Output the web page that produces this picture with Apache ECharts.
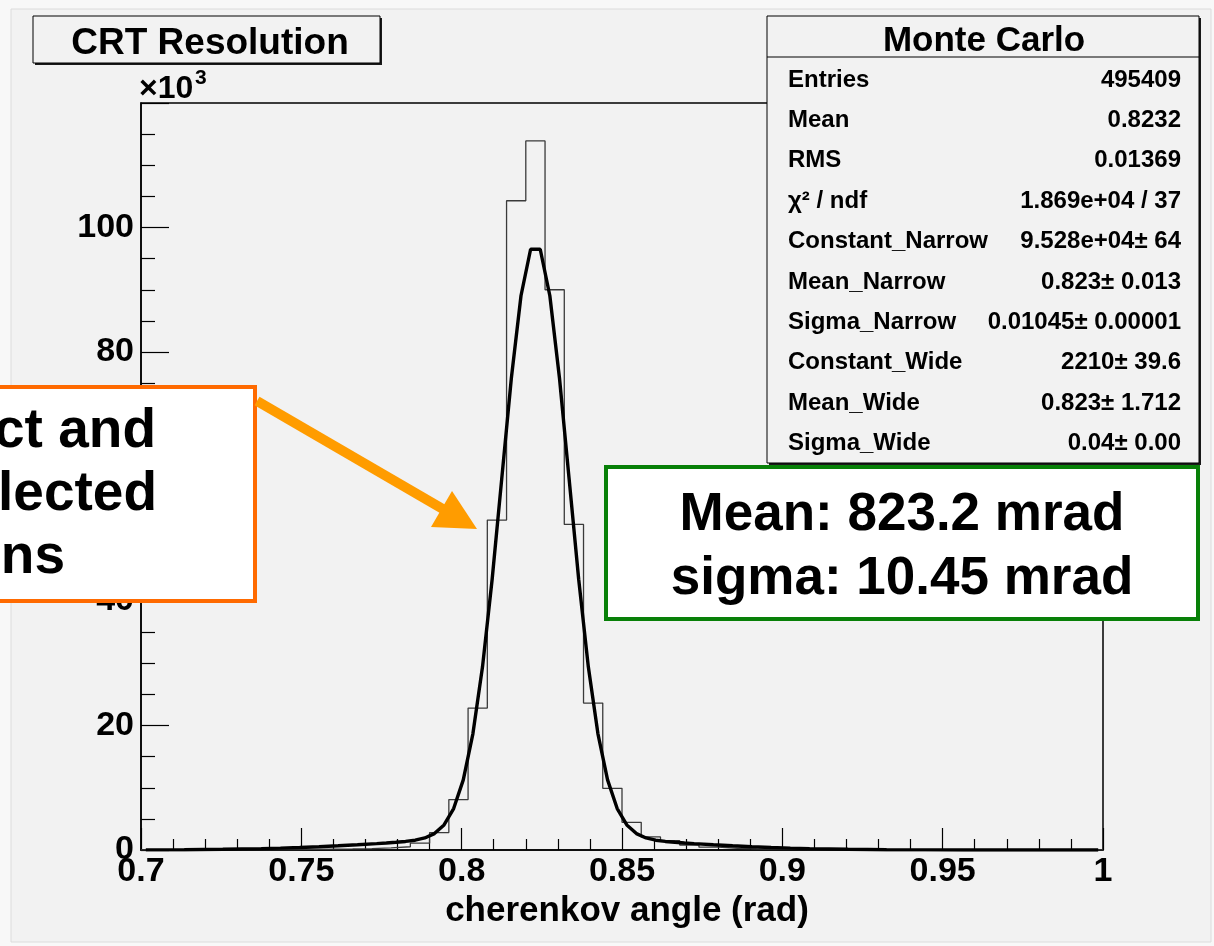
<!DOCTYPE html>
<html>
<head>
<meta charset="utf-8">
<title>CRT Resolution</title>
<script src="https://cdn.jsdelivr.net/npm/echarts@6/dist/echarts.min.js"></script>
<style>
  html, body { margin: 0; padding: 0; background: #f8f8f8; }
  #chart { width: 1214px; height: 946px; }
</style>
</head>
<body>
<div id="chart"></div>
<script>
// Cherenkov angle histogram: 50 bins of 0.006 rad from 0.7 to 1.0, counts in units of 10^3
const binLow = 0.7;
const binWidth = 0.006;
const histCounts = [
  0.02, 0.02, 0.03, 0.03, 0.04, 0.05, 0.06, 0.08, 0.10, 0.13,
  0.17, 0.23, 0.34, 0.52, 1.10, 2.80, 8.10, 22.8, 53.0, 104.3,
  113.9, 90.0, 52.3, 23.6, 9.9, 4.45, 2.10, 1.50, 0.80, 0.45,
  0.28, 0.19, 0.13, 0.09, 0.07, 0.05, 0.04, 0.03, 0.03, 0.02,
  0.02, 0.02, 0.01, 0.01, 0.01, 0.01, 0.01, 0.01, 0.01, 0.01
];

// Double-Gaussian fit curve, sampled points (angle in rad, value in 10^3)
const fitAngle = [
  0.7015, 0.7135, 0.7255, 0.7375, 0.7435, 0.7495, 0.7555, 0.7615, 0.7675, 0.7735,
  0.7765, 0.7795, 0.7825, 0.7855, 0.7885, 0.7915, 0.7945, 0.7975, 0.8005, 0.8035,
  0.8065, 0.8095, 0.8125, 0.8155, 0.8185, 0.8215, 0.8245, 0.8275, 0.8305, 0.8335,
  0.8365, 0.8395, 0.8425, 0.8455, 0.8485, 0.8515, 0.8545, 0.8575, 0.8605, 0.8635,
  0.8665, 0.8695, 0.8725, 0.8785, 0.8845, 0.8905, 0.8965, 0.9025, 0.9085, 0.9205,
  0.9325, 0.9445, 0.9565, 0.9685, 0.9985
];
const fitValue = [
  0.022, 0.052, 0.113, 0.225, 0.307, 0.408, 0.532, 0.678, 0.845, 1.029,
  1.129, 1.240, 1.376, 1.576, 1.933, 2.634, 4.026, 6.656, 11.27, 18.67,
  29.42, 43.45, 59.65, 75.82, 89.04, 96.51, 96.51, 89.04, 75.82, 59.65,
  43.45, 29.42, 18.67, 11.27, 6.656, 4.026, 2.634, 1.933, 1.576, 1.376,
  1.240, 1.129, 1.029, 0.845, 0.678, 0.532, 0.408, 0.307, 0.225, 0.113,
  0.052, 0.022, 0.0084, 0.003, 0.0002
];

// Axis settings
const xTicks = { min: 0.7, max: 1.0, step: 0.05 };
const yTicks = { min: 0, max: 120, step: 20 };

// Statistics panel rows
const statNames = ['Entries', 'Mean', 'RMS', 'χ² / ndf', 'Constant_Narrow', 'Mean_Narrow',
  'Sigma_Narrow', 'Constant_Wide', 'Mean_Wide', 'Sigma_Wide'];
const statValues = ['495409', '0.8232', '0.01369', '1.869e+04 / 37', '9.528e+04± 64', '0.823± 0.013',
  '0.01045± 0.00001', '2210± 39.6', '0.823± 1.712', '0.04± 0.00'];

const resultLines = ['Mean: 823.2 mrad', 'sigma: 10.45 mrad'];
const noteLines = ['Direct and', 'Reflected', 'photons'];

// Histogram outline as a step line through the lower bin edges, closed at the upper edge
const histPoints = histCounts.map((v, i) => [binLow + i * binWidth, v]);
histPoints.push([binLow + histCounts.length * binWidth, histCounts[histCounts.length - 1]]);
const fitPoints = fitAngle.map((x, i) => [x, fitValue[i]]);

const BG = '#f2f2f2';
const FONT = '"Liberation Sans", Arial, Helvetica, sans-serif';

const chart = echarts.init(document.getElementById('chart'), null, { renderer: 'canvas' });

const graphics = [];

// canvas frame
graphics.push({
  type: 'rect', z: -10, silent: true,
  shape: { x: 11, y: 9, width: 1200, height: 933 },
  style: { fill: BG, stroke: '#dcdcdc', lineWidth: 1 }
});

// title box with shadow
graphics.push({ type: 'rect', z: 100, shape: { x: 35, y: 18, width: 347, height: 47 }, style: { fill: '#1a1a1a' } });
graphics.push({ type: 'rect', z: 101, shape: { x: 33, y: 16, width: 347, height: 47 },
  style: { fill: BG, stroke: '#000', lineWidth: 1 } });
graphics.push({ type: 'text', z: 102, x: 210, y: 44,
  style: { text: 'CRT Resolution', font: 'bold 37px ' + FONT, fill: '#000', textAlign: 'center', textVerticalAlign: 'middle' } });

// exponent of the y axis
graphics.push({ type: 'text', z: 102, x: 139, y: 89,
  style: { text: '×10', font: 'bold 32px ' + FONT, fill: '#000', textAlign: 'left', textVerticalAlign: 'middle' } });
graphics.push({ type: 'text', z: 102, x: 195, y: 78,
  style: { text: '3', font: 'bold 21px ' + FONT, fill: '#000', textAlign: 'left', textVerticalAlign: 'middle' } });

// statistics panel
const sx = 767, sy = 16, sw = 432, sh = 447;
graphics.push({ type: 'rect', z: 100, shape: { x: sx + 2, y: sy + 2, width: sw, height: sh }, style: { fill: '#1a1a1a' } });
graphics.push({ type: 'rect', z: 101, shape: { x: sx, y: sy, width: sw, height: sh },
  style: { fill: BG, stroke: '#000', lineWidth: 1 } });
graphics.push({ type: 'line', z: 102, shape: { x1: sx, y1: 57, x2: sx + sw, y2: 57 },
  style: { stroke: '#000', lineWidth: 1 } });
graphics.push({ type: 'text', z: 102, x: 984, y: 41,
  style: { text: 'Monte Carlo', font: 'bold 35px ' + FONT, fill: '#000', textAlign: 'center', textVerticalAlign: 'middle' } });
statNames.forEach((name, i) => {
  const y = 80 + i * 40.4;
  graphics.push({ type: 'text', z: 102, x: 788, y: y,
    style: { text: name, font: 'bold 24px ' + FONT, fill: '#000', textAlign: 'left', textVerticalAlign: 'middle' } });
  graphics.push({ type: 'text', z: 102, x: 1181, y: y,
    style: { text: statValues[i], font: 'bold 24px ' + FONT, fill: '#000', textAlign: 'right', textVerticalAlign: 'middle' } });
});

// fit result box
graphics.push({ type: 'rect', z: 110, shape: { x: 606, y: 467, width: 592, height: 152 },
  style: { fill: '#ffffff', stroke: '#088008', lineWidth: 4 } });
resultLines.forEach((t, i) => {
  graphics.push({ type: 'text', z: 111, x: 902, y: 515 + i * 64,
    style: { text: t, font: 'bold 53px ' + FONT, fill: '#000', textAlign: 'center', textVerticalAlign: 'middle' } });
});

// note box with arrow
graphics.push({ type: 'rect', z: 110, shape: { x: -20, y: 387, width: 275, height: 214 },
  style: { fill: '#ffffff', stroke: '#ff6a00', lineWidth: 4 } });
const noteRight = [156, 157, 65];
noteLines.forEach((t, i) => {
  graphics.push({ type: 'text', z: 111, x: noteRight[i], y: 432 + i * 63,
    style: { text: t, font: 'bold 55px ' + FONT, fill: '#000', textAlign: 'right', textVerticalAlign: 'middle' } });
});
graphics.push({ type: 'line', z: 112, shape: { x1: 257, y1: 401, x2: 448, y2: 512 },
  style: { stroke: '#ff9c00', lineWidth: 10 } });
graphics.push({ type: 'polygon', z: 112, shape: { points: [[477, 529], [431, 527], [452, 491]] },
  style: { fill: '#ff9c00' } });

chart.setOption({
  backgroundColor: 'transparent',
  animation: false,
  textStyle: { fontFamily: FONT },
  grid: { left: 141, right: 111, top: 103, bottom: 96, show: true, backgroundColor: BG,
    borderColor: '#000', borderWidth: 1.5 },
  xAxis: {
    type: 'value', min: xTicks.min, max: xTicks.max, interval: xTicks.step, z: 2,
    name: 'cherenkov angle (rad)', nameLocation: 'middle', nameGap: 42,
    nameTextStyle: { fontFamily: FONT, fontWeight: 'bold', fontSize: 35, color: '#000', padding: [0, 0, 0, 10] },
    axisLine: { show: true, onZero: false, lineStyle: { color: '#000', width: 1.5 } },
    axisTick: { show: true, inside: true, length: 22, lineStyle: { color: '#000', width: 1.2 } },
    minorTick: { show: true, splitNumber: 5, length: 11, lineStyle: { color: '#000', width: 1.2 } },
    splitLine: { show: false },
    axisLabel: { fontFamily: FONT, fontWeight: 'bold', fontSize: 34, color: '#000', margin: 5,
      formatter: v => String(+v.toFixed(2)) }
  },
  yAxis: {
    type: 'value', min: yTicks.min, max: yTicks.max, interval: yTicks.step, z: 2,
    axisLine: { show: true, onZero: false, lineStyle: { color: '#000', width: 1.5 } },
    axisTick: { show: true, inside: true, length: 28, lineStyle: { color: '#000', width: 1.2 } },
    minorTick: { show: true, splitNumber: 4, length: 14, lineStyle: { color: '#000', width: 1.2 } },
    splitLine: { show: false },
    axisLabel: { fontFamily: FONT, fontWeight: 'bold', fontSize: 34, color: '#000', margin: 7,
      showMaxLabel: false }
  },
  series: [
    {
      name: 'histogram', type: 'line', step: 'end', data: histPoints,
      showSymbol: false, symbol: 'none', z: 3,
      lineStyle: { color: '#3a3a3a', width: 1.3 }
    },
    {
      name: 'fit', type: 'line', data: fitPoints,
      showSymbol: false, symbol: 'none', smooth: false, z: 4,
      lineStyle: { color: '#000', width: 3.4 }
    }
  ],
  graphic: { elements: graphics }
});
</script>
</body>
</html>
